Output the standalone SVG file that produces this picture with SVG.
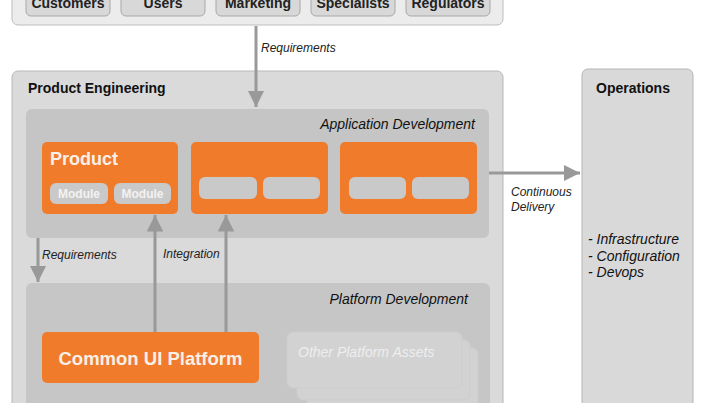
<svg xmlns="http://www.w3.org/2000/svg" width="706" height="403" viewBox="0 0 706 403">
<defs>
<style>
text{font-family:"Liberation Sans",Arial,sans-serif}
.b{font-weight:bold}
.i{font-style:italic}
.stk{fill:#d8d8d8;stroke:#a8a8a8;stroke-width:1}
.stl{font-size:14px;font-weight:bold;fill:#222;text-anchor:middle}
.org{fill:#f07b2b}
.pill{fill:#c9c9c9}
.mod{font-size:12px;font-weight:bold;fill:#f2f2f2;text-anchor:middle}
.lbl{font-size:12px;font-style:italic;fill:#222}
.conn{stroke:#999;stroke-width:3;fill:none}
.oa{fill:#d2d2d2;stroke:#cdcdcd;stroke-width:1}
.ops{font-size:14px;font-style:italic;fill:#111}
</style>
<marker id="ah" viewBox="0 0 10 10" refX="10" refY="5" markerWidth="5.5" markerHeight="5.5" markerUnits="strokeWidth" orient="auto">
<path d="M0,0 L10,5 L0,10 z" fill="#999"/>
</marker>
</defs>
<rect width="706" height="403" fill="#ffffff"/>

<g id="stakeholders">
<rect x="12" y="-20" width="491" height="45" rx="6" fill="#ececec" stroke="#bdbdbd"/>
<g id="customers"><rect class="stk" x="26" y="-14" width="84" height="30" rx="5"/><text class="stl" x="68" y="8">Customers</text></g>
<g id="users"><rect class="stk" x="121" y="-14" width="84" height="30" rx="5"/><text class="stl" x="163" y="8">Users</text></g>
<g id="marketing"><rect class="stk" x="216" y="-14" width="84" height="30" rx="5"/><text class="stl" x="258" y="8">Marketing</text></g>
<g id="specialists"><rect class="stk" x="311" y="-14" width="84" height="30" rx="5"/><text class="stl" x="353" y="8">Specialists</text></g>
<g id="regulators"><rect class="stk" x="406" y="-14" width="84" height="30" rx="5"/><text class="stl" x="448" y="8">Regulators</text></g>
</g>

<g id="product-engineering">
<rect x="12" y="71" width="491" height="350" rx="6" fill="#dadada" stroke="#b8b8b8"/>
<text class="b" x="28" y="93" font-size="14" fill="#111">Product Engineering</text>
</g>

<g id="application-development">
<rect x="26" y="109" width="463" height="129" rx="6" fill="#c5c5c5"/>
<text class="i" x="475" y="129" font-size="14" fill="#111" text-anchor="end">Application Development</text>
</g>

<g id="product">
<rect class="org" x="42" y="142" width="136" height="72" rx="5"/>
<text class="b" x="50" y="165" font-size="18" fill="#f8f0e8">Product</text>
<rect class="pill" x="50" y="183" width="58" height="21" rx="6"/>
<text class="mod" x="79" y="198">Module</text>
<rect class="pill" x="114" y="183" width="57" height="21" rx="6"/>
<text class="mod" x="142.5" y="198">Module</text>
</g>

<g id="app2">
<rect class="org" x="191" y="142" width="137" height="72" rx="5"/>
<rect class="pill" x="199" y="177" width="58" height="22" rx="6"/>
<rect class="pill" x="263" y="177" width="57" height="22" rx="6"/>
</g>

<g id="app3">
<rect class="org" x="340" y="142" width="137" height="72" rx="5"/>
<rect class="pill" x="349" y="177" width="57" height="22" rx="6"/>
<rect class="pill" x="412" y="177" width="57" height="22" rx="6"/>
</g>

<g id="platform-development">
<rect x="26" y="283" width="464" height="140" rx="6" fill="#c6c6c6"/>
<text class="i" x="468" y="304" font-size="14" fill="#111" text-anchor="end">Platform Development</text>
</g>

<g id="common-ui-platform">
<rect class="org" x="42" y="332" width="217" height="51" rx="5"/>
<text class="b" x="150.5" y="365" font-size="18.5" fill="#f8f0e8" text-anchor="middle">Common UI Platform</text>
</g>

<g id="other-platform-assets">
<rect class="oa" x="307" y="348" width="171" height="62" rx="6"/>
<rect class="oa" x="297" y="340" width="173" height="60" rx="6"/>
<rect class="oa" x="287" y="332" width="175" height="56" rx="6"/>
<text class="i" x="298" y="357" font-size="14" fill="#eeeeee">Other Platform Assets</text>
</g>

<g id="operations">
<rect x="582" y="69" width="111" height="350" rx="6" fill="#d9d9d9" stroke="#b5b5b5"/>
<text class="b" x="633" y="93" font-size="14" fill="#111" text-anchor="middle">Operations</text>
<text class="ops" x="588" y="244">- Infrastructure</text>
<text class="ops" x="588" y="261">- Configuration</text>
<text class="ops" x="588" y="277">- Devops</text>
</g>

<g id="connectors">
<line class="conn" x1="256" y1="26" x2="256" y2="107" marker-end="url(#ah)"/>
<text class="lbl" x="261" y="52">Requirements</text>
<line class="conn" x1="38" y1="238" x2="38" y2="282" marker-end="url(#ah)"/>
<text class="lbl" x="42" y="259">Requirements</text>
<line class="conn" x1="155" y1="332" x2="155" y2="215" marker-end="url(#ah)"/>
<line class="conn" x1="226" y1="332" x2="226" y2="215" marker-end="url(#ah)"/>
<text class="lbl" x="163" y="258">Integration</text>
<line class="conn" x1="489" y1="173" x2="580" y2="173" marker-end="url(#ah)"/>
<text class="lbl" x="511" y="196">Continuous</text>
<text class="lbl" x="511" y="211">Delivery</text>
</g>
</svg>
